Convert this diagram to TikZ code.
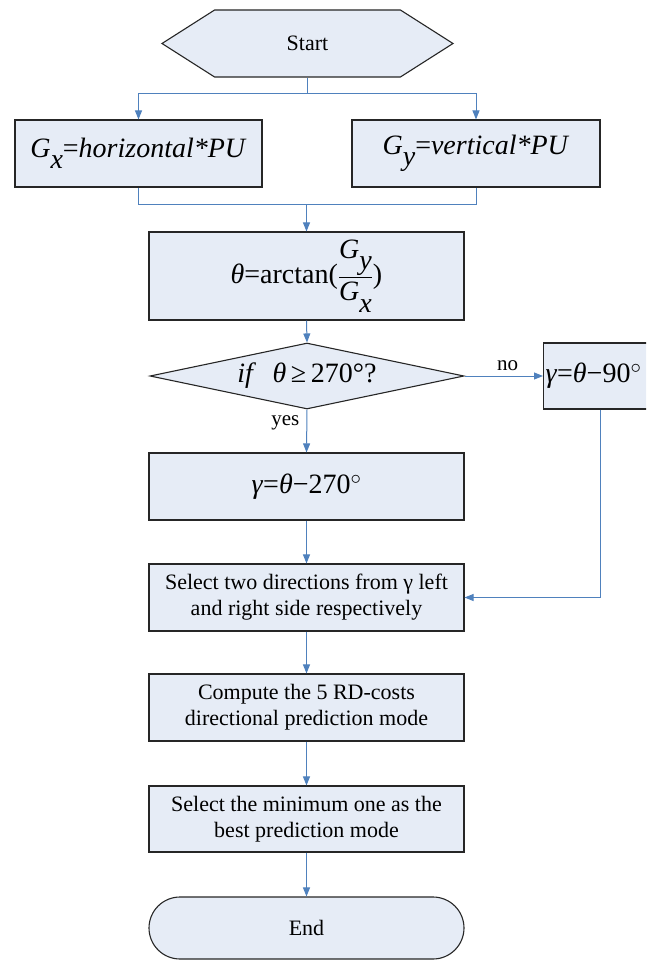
\documentclass[tikz,border=0pt]{standalone}
\usepackage{amsmath}
\usepackage{fontspec}
\setmainfont{Liberation Serif}
\usetikzlibrary{arrows.meta,calc,shapes.geometric,shapes.symbols}

\definecolor{boxfill}{RGB}{230,236,246}
\definecolor{linkblue}{RGB}{79,129,189}

% italic letter with a lowered, full-size italic index
\newcommand{\gidx}[2]{\textit{#1}\raisebox{-0.4em}{\textit{#2}}}

\tikzset{
  box/.style={draw=black!85, line width=1.1pt, fill=boxfill,
    minimum width=315pt, minimum height=67pt, inner sep=2pt,
    align=center, font=\fontsize{22}{26}\selectfont},
  bigtext/.style={font=\fontsize{28}{32}\selectfont},
  link/.style={draw=linkblue, line width=1pt},
  arr/.style={link, -{Triangle[length=9pt,width=7pt]}},
  lbl/.style={font=\fontsize{21}{24}\selectfont, inner sep=1pt},
}

\begin{document}
\begin{tikzpicture}[x=1pt,y=-1pt]
\path[use as bounding box] (0,0) rectangle (646,961);
\clip (0,0) rectangle (646,961);

% nodes
\node[box, shape=signal, signal to=east and west, signal pointer angle=65,
      minimum width=291pt, minimum height=67pt] (start) at (307.5,43.5) {Start};
\node[box, minimum width=247pt, bigtext] (gx) at (138.5,153.5)
  {\gidx{G}{x}=\textit{horizontal*PU}};
\node[box, minimum width=248pt, bigtext] (gy) at (476,153.5)
  {\gidx{G}{y}=\textit{vertical*PU}};
\node[box, minimum height=88pt, bigtext] (theta) at (306.5,276)
  {\textit{θ}=arctan($\genfrac{}{}{0.6pt}{0}{\mbox{\gidx{G}{y}}}{\mbox{\gidx{G}{x}}}$)};
\node[box, shape=diamond, aspect=4.76, minimum width=314pt, minimum height=66pt,
      inner sep=0pt, bigtext] (cond) at (307,376)
  {\textit{if}\,\, \textit{θ}\,≥\,270°?};
\node[box, anchor=west, minimum width=0pt, minimum height=66pt, inner xsep=2pt,
      text width=126pt, align=left, bigtext] (g90) at (543,376)
  {\textit{γ}=\textit{θ}−90$^{\circ}$};
\node[box, bigtext] (g270) at (306.5,486.5) {\textit{γ}=\textit{θ}−270$^{\circ}$};
\node[box] (sel) at (306.5,597.5)
  {Select two directions from γ left\\and right side respectively};
\node[box] (comp) at (306.5,707.5)
  {Compute the 5 RD-costs\\directional prediction mode};
\node[box, minimum height=66pt] (best) at (306.5,819)
  {Select the minimum one as the\\best prediction mode};
\node[box, rounded corners=31pt, minimum height=62pt] (endn) at (306.5,928) {End};

% split after the start
\coordinate (split) at (307.5,93);
\draw[link] (start.south) -- (split);
\draw[link] (split -| gx.north) -- (split -| gy.north);
\draw[arr] (split -| gx.north) -- (gx.north);
\draw[arr] (split -| gy.north) -- (gy.north);

% merge into the angle computation
\coordinate (merge) at (306.5,204);
\draw[link] (gx.south) -- (gx.south |- merge) -- (gy.south |- merge) -- (gy.south);
\draw[arr] (merge) -- (theta.north);

\draw[arr] (theta.south) -- (cond.north);

% branches of the test
\draw[arr] (cond.east) -- (g90.west) node[lbl, pos=0.55, above=4pt] {no};
\draw[arr] (cond.south) -- (g270.north) node[lbl, pos=0.3, left=6pt] {yes};
\coordinate (g90out) at ($(g90.south west)+(57,0)$);
\draw[arr] (g90out) |- (sel.east);
\draw[arr] (g270.south) -- (sel.north);

% remaining steps
\draw[arr] (sel.south) -- (comp.north);
\draw[arr] (comp.south) -- (best.north);
\draw[arr] (best.south) -- (endn.north);
\end{tikzpicture}
\end{document}
